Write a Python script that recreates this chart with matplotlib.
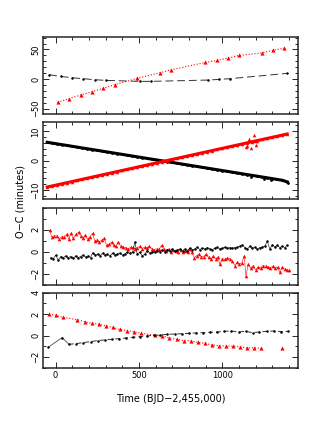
import numpy as np
import matplotlib.pyplot as plt
from matplotlib.ticker import MultipleLocator, FixedLocator

# %% datos leidos de la figura
# panel 1
t1_red = [12, 82, 150, 220, 286, 354, 488, 626, 694, 898, 968, 1034, 1100, 1238, 1306, 1372]
oc1_red = [-39.2, -33.0, -27.0, -21.3, -15.7, -9.5, 1.1, 10.6, 15.7, 28.0, 31.4, 35.3, 39.8, 44.2, 48.7, 52.1]
t1_blk = [-38, 32, 98, 166, 236, 300, 506, 572, 912, 978, 1046, 1386]
oc1_blk = [7.3, 4.5, 2.2, 0.6, -1.1, -2.2, -3.9, -3.9, -1.7, -0.6, 0.6, 9.5]

# panel 2
t2 = [-50, -20, 10, 40, 70, 100, 130, 160, 190, 220, 250, 280, 310, 340, 370, 400,
      430, 460, 490, 520, 550, 580, 610, 640, 670, 700, 730, 760, 790, 820, 850, 880,
      910, 940, 970, 1000, 1030, 1060, 1090, 1120, 1150, 1180, 1210, 1240, 1270, 1300,
      1330, 1360, 1390]
oc2_blk = [6.26, 5.98, 5.71, 5.44, 5.17, 4.89, 4.62, 4.34, 4.07, 3.79, 3.52, 3.25, 2.97,
           2.70, 2.42, 2.15, 1.87, 1.60, 1.32, 1.05, 0.77, 0.50, 0.23, -0.05, -0.32, -0.60,
           -0.87, -1.15, -1.42, -1.70, -1.97, -2.25, -2.52, -2.79, -3.07, -3.34, -3.62,
           -3.89, -4.17, -4.44, -4.72, -4.99, -5.26, -5.54, -5.81, -6.09, -6.36, -6.64, -7.2]
oc2_red = [-8.95, -8.57, -8.20, -7.82, -7.45, -7.07, -6.70, -6.32, -5.95, -5.57, -5.19,
           -4.82, -4.44, -4.07, -3.69, -3.32, -2.94, -2.57, -2.19, -1.81, -1.44, -1.06,
           -0.69, -0.31, 0.06, 0.44, 0.81, 1.19, 1.57, 1.94, 2.32, 2.69, 3.07, 3.44, 3.82,
           4.19, 4.57, 4.94, 5.32, 5.69, 6.07, 6.45, 6.82, 7.20, 7.57, 7.95, 8.32, 8.70, 9.07]
# puntos sueltos del panel 2
t2_red_x = [1140, 1150, 1160, 1175, 1190, 1195, 1205]
oc2_red_x = [4.6, 5.0, 7.5, 4.3, 8.8, 6.8, 5.5]
t2_blk_x = [1170, 1250, 1290, 1395]
oc2_blk_x = [-5.6, -6.3, -6.6, -7.6]

# panel 3
t3_red = [-34, -24, -8, 6, 22, 36, 50, 66, 80, 92, 106, 122, 138, 152, 166, 178, 192, 206,
          222, 236, 250, 262, 276, 292, 306, 322, 336, 350, 362, 376, 390, 406, 422, 436,
          450, 462, 476, 490, 506, 520, 534, 548, 562, 576, 590, 606, 622, 636, 650, 664,
          678, 690, 706, 720, 736, 750, 764, 776, 792, 802, 818, 832, 846, 860, 874, 888,
          902, 918, 932, 946, 960, 974, 986, 1000, 1014, 1030, 1046, 1060, 1076, 1090,
          1102, 1118, 1132, 1142, 1156, 1170, 1186, 1200, 1216, 1230, 1244, 1260, 1274,
          1288, 1302, 1316, 1332, 1346, 1360, 1374, 1386, 1398]
oc3_red = [1.97, 1.37, 1.43, 1.46, 1.14, 1.37, 1.33, 1.59, 1.14, 1.68, 1.21, 1.59, 1.78,
           1.46, 1.27, 1.52, 1.14, 1.37, 1.68, 0.95, 1.11, 0.89, 1.05, 1.21, 0.57, 0.67,
           0.89, 0.57, 0.48, 0.89, 0.51, 0.44, 0.38, 0.25, 0.41, 0.41, 0.25, 0.38, 0.48,
           0.29, 0.41, 0.38, 0.51, 0.29, 0.19, 0.25, 0.25, 0.57, 0.25, 0.10, 0.25, 0.0,
           0.16, 0.10, 0.0, 0.19, 0.0, 0.06, -0.06, 0.25, -0.06, -0.54, -0.38, -0.22,
           -0.48, -0.44, -0.25, -0.51, -0.70, -0.38, -0.63, -0.48, -1.17, -0.63, -0.70,
           -0.57, -0.63, -0.86, -1.27, -0.95, -1.14, -1.02, -0.38, -2.22, -1.17, -1.49,
           -1.27, -1.65, -1.40, -1.49, -1.27, -1.33, -1.40, -1.49, -1.33, -1.49, -1.40,
           -1.90, -1.40, -1.59, -1.65, -1.71]
t3_blk = [-30, -14, 2, 16, 32, 46, 62, 76, 90, 106, 122, 136, 150, 166, 182, 196, 210, 222,
          238, 252, 266, 282, 296, 310, 326, 342, 356, 370, 386, 402, 416, 430, 446, 462,
          476, 490, 506, 520, 536, 550, 566, 580, 596, 610, 626, 640, 656, 670, 686, 700,
          716, 730, 746, 762, 776, 790, 806, 820, 836, 850, 866, 880, 896, 910, 926, 940,
          956, 970, 986, 1000, 1016, 1030, 1046, 1060, 1076, 1090, 1106, 1120, 1136, 1150,
          1166, 1180, 1196, 1210, 1226, 1240, 1256, 1270, 1286, 1300, 1316, 1330, 1346,
          1360, 1376, 1390]
oc3_blk = [-0.54, -0.63, -0.32, -0.76, -0.44, -0.54, -0.38, -0.54, -0.44, -0.60, -0.38,
           -0.54, -0.44, -0.32, -0.51, -0.38, -0.54, -0.13, -0.32, -0.22, -0.38, -0.13,
           -0.32, -0.22, -0.38, -0.13, -0.32, -0.22, -0.13, -0.32, -0.22, -0.06, -0.13,
           -0.06, 0.89, -0.22, -0.06, -0.38, -0.22, 0.10, -0.13, 0.0, -0.06, 0.10, 0.0,
           0.16, 0.0, 0.19, 0.06, 0.25, 0.10, 0.16, 0.25, 0.10, 0.25, 0.10, 0.32, 0.19,
           0.25, 0.41, 0.19, 0.32, 0.25, 0.38, 0.25, 0.19, 0.32, 0.41, 0.25, 0.32, 0.41,
           0.32, 0.38, 0.32, 0.38, 0.41, 0.51, 0.63, 0.38, 0.25, 0.51, 0.32, 0.41, 0.25,
           0.38, 0.41, 0.51, 0.95, 0.25, 0.63, 0.41, 0.57, 0.38, 0.51, 0.38, 0.57]

# panel 4
t4_red = [-38, 2, 46, 130, 176, 216, 258, 302, 342, 384, 430, 470, 514, 598, 640, 682,
          726, 770, 810, 854, 896, 936, 980, 1022, 1066, 1106, 1146, 1190, 1232]
oc4_red = [2.0, 1.88, 1.69, 1.48, 1.29, 1.14, 1.08, 0.89, 0.77, 0.58, 0.46, 0.37, 0.22,
           0.03, -0.03, -0.21, -0.34, -0.46, -0.48, -0.62, -0.71, -0.86, -0.92, -0.97,
           -0.97, -1.04, -1.14, -1.12, -1.18]
t4_red_x = [1360]
oc4_red_x = [-1.12]
t4_blk = [-44, 40, 80, 124, 166, 210, 252, 294, 336, 380, 420, 462, 506, 546, 590, 626,
          670, 714, 758, 802, 842, 886, 926, 970, 1012, 1054, 1098, 1140, 1182, 1222,
          1266, 1310, 1352, 1396]
oc4_blk = [-1.08, -0.18, -0.80, -0.74, -0.65, -0.55, -0.46, -0.40, -0.34, -0.28, -0.22,
           -0.15, -0.09, -0.03, 0.03, 0.06, 0.12, 0.15, 0.18, 0.22, 0.25, 0.28, 0.31,
           0.34, 0.40, 0.43, 0.34, 0.40, 0.28, 0.34, 0.40, 0.43, 0.37, 0.40]

# %% figura
plt.rcParams['font.family'] = 'DejaVu Sans'
fig = plt.figure(figsize=(3.27, 4.23), dpi=100)

# posiciones de los paneles (en fraccion de figura)
izq, ancho = 0.1315, 0.780
abajos = [0.7305, 0.5296, 0.3274, 0.130]
altos = [0.182, 0.181, 0.181, 0.1785]
axs = [fig.add_axes([izq, b, ancho, h]) for b, h in zip(abajos, altos)]

gris = '0.15'
for ax in axs:
    ax.set_xlim(-75, 1455)
    ax.xaxis.set_major_locator(MultipleLocator(500))
    ax.xaxis.set_minor_locator(MultipleLocator(100))
    ax.tick_params(which='both', direction='in', top=True, right=True,
                   labelsize=6, color=gris, width=0.7, pad=2)
    ax.tick_params(which='major', length=4)
    ax.tick_params(which='minor', length=2)
    ax.tick_params(axis='y', labelrotation=90)
    for s in ax.spines.values():
        s.set_linewidth(1.1)
        s.set_color(gris)
for ax in axs[:3]:
    ax.tick_params(labelbottom=False)

# panel 1
ax = axs[0]
ax.plot(t1_red, oc1_red, ':', color='red', lw=0.8)
ax.plot(t1_red, oc1_red, '^', color='red', ms=3, mew=0)
ax.plot(t1_blk, oc1_blk, '--', color='0.2', lw=0.7, dashes=(8, 4))
ax.plot(t1_blk, oc1_blk, 'o', color='k', ms=1.8, mew=0)
ax.set_ylim(-59, 71)
ax.yaxis.set_major_locator(MultipleLocator(50))
ax.yaxis.set_minor_locator(MultipleLocator(10))

# panel 2
ax = axs[1]
ax.plot(t2, oc2_blk, '-', color='k', lw=2.2)
ax.plot(t2, oc2_blk, 'o', color='k', ms=2, mew=0)
ax.plot(t2_blk_x, oc2_blk_x, 'o', color='k', ms=2, mew=0)
ax.plot(t2, oc2_red, '-', color='red', lw=2.2)
ax.plot(t2, oc2_red, '^', color='red', ms=2.5, mew=0)
ax.plot(t2_red_x, oc2_red_x, '^', color='red', ms=2.5, mew=0)
ax.set_ylim(-13, 13)
ax.yaxis.set_major_locator(MultipleLocator(10))
ax.yaxis.set_minor_locator(MultipleLocator(2))

# panel 3
ax = axs[2]
ax.plot(t3_red, oc3_red, '-', color='red', lw=0.5, alpha=0.8)
ax.plot(t3_red, oc3_red, '^', color='red', ms=2.6, mew=0)
ax.plot(t3_blk, oc3_blk, '-', color='0.2', lw=0.5)
ax.plot(t3_blk, oc3_blk, 'o', color='k', ms=1.8, mew=0)
ax.set_ylim(-3, 4)
ax.yaxis.set_major_locator(FixedLocator([-2, 0, 2]))
ax.yaxis.set_minor_locator(MultipleLocator(1))

# panel 4
ax = axs[3]
ax.plot(t4_red, oc4_red, ':', color='red', lw=0.8)
ax.plot(t4_red, oc4_red, '^', color='red', ms=3, mew=0)
ax.plot(t4_red_x, oc4_red_x, '^', color='red', ms=3, mew=0)
ax.plot(t4_blk[:3], oc4_blk[:3], '-', color='0.3', lw=0.6)
ax.plot(t4_blk[2:], oc4_blk[2:], '--', color='0.2', lw=0.7, dashes=(5, 3))
ax.plot(t4_blk, oc4_blk, 'o', color='k', ms=1.8, mew=0)
ax.set_ylim(-3, 4)
ax.yaxis.set_major_locator(MultipleLocator(2))
ax.yaxis.set_minor_locator(MultipleLocator(1))

for ax in axs:
    for l in ax.get_yticklabels():
        l.set_va('center')

ax.set_xlabel('Time (BJD\u22122,455,000)', fontsize=7, labelpad=10)
fig.text(0.062, 0.523, 'O\u2212C (minutes)', rotation=90, fontsize=7,
         ha='center', va='center')

plt.savefig('out.png', dpi=100)
